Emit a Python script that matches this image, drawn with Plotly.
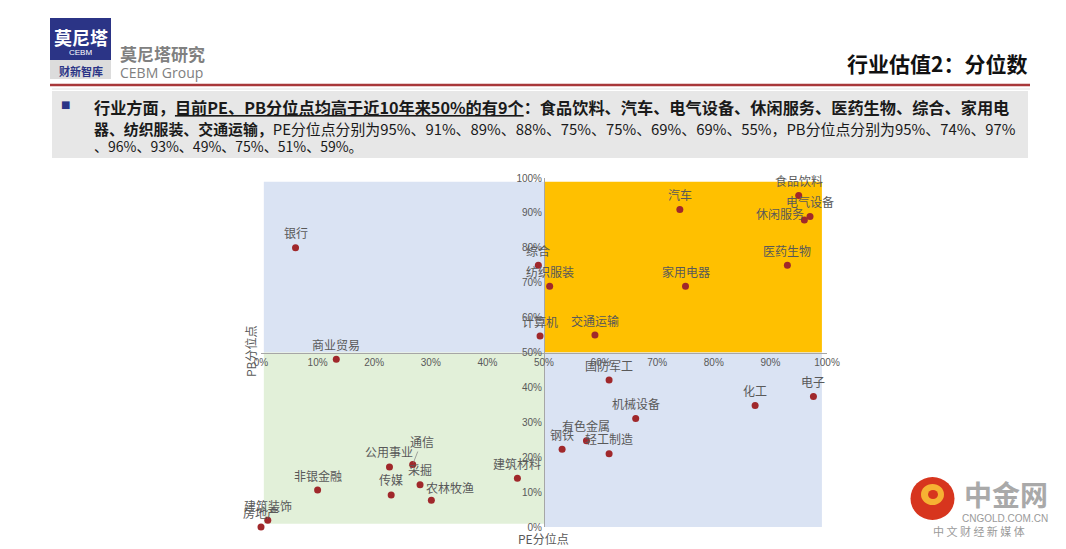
import plotly.graph_objects as go

# ---------------- data ----------------
industries = ["银行", "商业贸易", "综合", "纺织服装", "计算机", "交通运输", "家用电器", "汽车",
              "医药生物", "食品饮料", "休闲服务", "电气设备", "国防军工", "机械设备", "化工", "电子",
              "有色金属", "钢铁", "轻工制造", "建筑材料", "公用事业", "通信", "采掘", "传媒",
              "农林牧渔", "非银金融", "建筑装饰", "房地产"]
pb_pct = [6.1, 13.3, 49, 51, 49.3, 59, 75, 74,
          93, 95, 96, 97, 61.5, 66.2, 87.3, 97.6,
          57.5, 53.2, 61.5, 45.3, 22.7, 26.8, 28.1, 23.0,
          30.1, 10.0, 1.2, 0.0]
pe_pct = [80, 48.1, 75, 69, 54.7, 55, 69, 91,
          75, 95, 88, 89, 42.1, 31.1, 34.8, 37.4,
          24.7, 22.3, 21.0, 14.0, 17.2, 17.9, 12.1, 9.2,
          7.7, 10.6, 1.9, 0.0]
tick_vals = [0, 10, 20, 30, 40, 50, 60, 70, 80, 90, 100]
tick_text = [f"{v}%" for v in tick_vals]

# ---------------- geometry helpers ----------------
W, H = 1066, 549
L, R, T, B = 261, 239, 178, 22
PW, PH = W - L - R, H - T - B


def px(x):
    return (x - L) / PW


def py(y):
    return (H - B - y) / PH


CJK = "Noto Sans CJK SC"
LAB = "#595959"

fig = go.Figure()

fig.add_trace(go.Scatter(
    x=[v / 100 for v in pb_pct], y=[v / 100 for v in pe_pct],
    mode="markers", marker=dict(size=7, color="#A0282B"),
    cliponaxis=False, hoverinfo="text", text=industries, showlegend=False))

shapes = []
# quadrant backgrounds
quad = [
    (0.005, 0.5, 0.5, 0.989, "#DAE3F3"),
    (0.5, 0.991, 0.5, 0.989, "#FFC000"),
    (0.005, 0.5, 0.009, 0.5, "#E2F0D9"),
    (0.5, 0.991, 0.0, 0.5, "#DAE3F3"),
]
for x0, x1, y0, y1, c in quad:
    shapes.append(dict(type="rect", xref="x", yref="y", x0=x0, x1=x1, y0=y0, y1=y1,
                       fillcolor=c, line=dict(width=0), layer="below"))

annotations = []


def pa(x, y, text, size, color, family=CJK, xanchor="center", yanchor="middle", **kw):
    annotations.append(dict(x=px(x), y=py(y), xref="paper", yref="paper", text=text,
                            xanchor=xanchor, yanchor=yanchor, showarrow=False,
                            font=dict(family=family, size=size, color=color), **kw))


# point labels
special = {"休闲服务": (-24, 6), "农林牧渔": (19, 13)}
for name, xv, yv in zip(industries, pb_pct, pe_pct):
    if name == "通信":
        annotations.append(dict(x=xv / 100, y=yv / 100, xref="x", yref="y", text=name,
                                showarrow=True, arrowhead=0, arrowwidth=0.7, arrowcolor="#7F7F7F",
                                ax=9, ay=-23, standoff=2,
                                font=dict(family=CJK, size=12, color=LAB)))
        continue
    dx, dy = special.get(name, (0, 15))
    annotations.append(dict(x=xv / 100, y=yv / 100, xref="x", yref="y", text=name,
                            showarrow=False, xshift=dx, yshift=dy,
                            xanchor="center", yanchor="middle",
                            font=dict(family=CJK, size=12, color=LAB)))

# axis titles
pa(250, 352, "PB分位点", 12, LAB, textangle=-90)
pa(543, 538, "PE分位点", 12, LAB)

# ---------------- header ----------------
shapes.append(dict(type="rect", xref="paper", yref="paper", x0=px(50), x1=px(111), y0=py(60), y1=py(18),
                   fillcolor="#2B3486", line=dict(width=0)))
shapes.append(dict(type="rect", xref="paper", yref="paper", x0=px(50), x1=px(111), y0=py(79), y1=py(60),
                   fillcolor="#DCDCDC", line=dict(width=0)))
pa(80.5, 37, "<b>莫尼塔</b>", 18, "white")
pa(80.5, 52.5, "CEBM", 8, "white", family="Liberation Sans")
pa(80.5, 70.5, "<b>财新智库</b>", 11, "#2B3486")
pa(118, 53, "<b>莫尼塔研究</b>", 17, "#808080", xanchor="left")
pa(118, 72.5, "CEBM Group", 14, "#808080", family="Open Sans", xanchor="left")
pa(1029, 62.5, "<b>行业估值2：分位数</b>", 21, "#111111", xanchor="right")
# red rule + thin gray rule
shapes.append(dict(type="line", xref="paper", yref="paper", x0=px(50), x1=px(1030), y0=py(85), y1=py(85),
                   line=dict(color="#A8383A", width=2.5)))
shapes.append(dict(type="line", xref="paper", yref="paper", x0=px(52), x1=px(1030), y0=py(89), y1=py(89),
                   line=dict(color="#E2E2E2", width=1)))
# gray text box
shapes.append(dict(type="rect", xref="paper", yref="paper", x0=px(52), x1=px(1028), y0=py(158), y1=py(91),
                   fillcolor="#E7E7E7", line=dict(width=0)))
pa(65, 105, "■", 10, "#2B3486", family="DejaVu Sans")
line1 = ("<b>行业方面，<span style='text-decoration:underline'>目前PE、PB分位点均高于近10年来50%的有9个</span>"
         "：食品饮料、汽车、电气设备、休闲服务、医药生物、综合、家用电</b>")
line2 = ("<b>器、纺织服装、交通运输，</b>PE分位点分别为95%、91%、89%、88%、75%、75%、69%、69%、55%，"
         "PB分位点分别为95%、74%、97%")
line3 = "、96%、93%、49%、75%、51%、59%。"
pa(92, 106.5, line1, 16.2, "#1A1A1A", xanchor="left")
pa(92, 128, line2, 14.9, "#1A1A1A", xanchor="left")
pa(92, 146, line3, 14, "#1A1A1A", xanchor="left")

# ---------------- watermark ----------------
shapes.append(dict(type="circle", xref="paper", yref="paper", x0=px(910.5), x1=px(954.5),
                   y0=py(520), y1=py(477), fillcolor="#D7351E", line=dict(width=0)))
shapes.append(dict(type="circle", xref="paper", yref="paper", x0=px(921), x1=px(944),
                   y0=py(505), y1=py(484), fillcolor="#F6B233", line=dict(width=0)))
shapes.append(dict(type="circle", xref="paper", yref="paper", x0=px(928), x1=px(938),
                   y0=py(499), y1=py(490), fillcolor="#D7351E", line=dict(width=0)))
pa(1006, 494, "<b>中金网</b>", 28, "#A9A9A9")
pa(1005, 518, "CNGOLD.COM.CN", 10, "#9A9A9A", family="Liberation Sans")
pa(979, 530.5, "中 文 财 经 新 媒 体", 11, "#9A9A9A")

axis_common = dict(range=[0, 1], tickvals=[v / 100 for v in tick_vals], ticktext=tick_text,
                   showgrid=False, zeroline=False, showline=True, linecolor="#A6A6A6", linewidth=1,
                   ticks="", tickfont=dict(family="Liberation Sans", size=10, color=LAB),
                   anchor="free", position=0.5, fixedrange=True)

fig.update_layout(
    width=W, height=H, autosize=False,
    margin=dict(l=L, r=R, t=T, b=B),
    paper_bgcolor="white", plot_bgcolor="white",
    xaxis=dict(**axis_common, side="bottom"),
    yaxis=dict(**axis_common, side="left"),
    shapes=shapes, annotations=annotations, showlegend=False,
)

fig.write_html("out.html", config={"displayModeBar": False},
               post_script="document.body.style.margin='0';document.body.style.overflow='hidden';")
